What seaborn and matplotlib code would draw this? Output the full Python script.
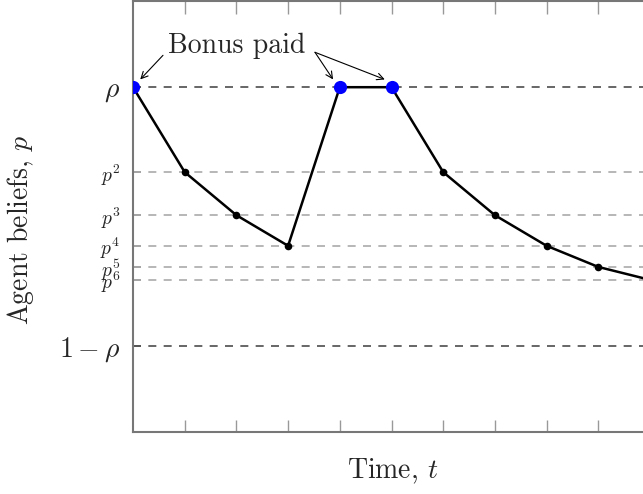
import matplotlib
matplotlib.use("Agg")
import matplotlib.pyplot as plt
import seaborn as sns
import pandas as pd

sns.set_theme(style="white")
plt.rcParams["mathtext.fontset"] = "cm"
plt.rcParams["font.family"] = ["cmr10", "DejaVu Serif"]
plt.rcParams["axes.formatter.use_mathtext"] = True

# Data
t = [0, 1, 2, 3, 4, 5, 6, 7, 8, 9, 10]
beliefs = [0.8, 0.603, 0.503, 0.432, 0.8, 0.8, 0.603, 0.503, 0.432, 0.383, 0.353]
bonus_t = [0, 4, 5]
bonus_p = [0.8, 0.8, 0.8]
rho = 0.8
p_levels = [0.603, 0.503, 0.432, 0.383, 0.353]
p_labels = [r"$p^2$", r"$p^3$", r"$p^4$", r"$p^5$", r"$p^6$"]

df = pd.DataFrame({"t": t, "p": beliefs})
dfb = pd.DataFrame({"t": bonus_t, "p": bonus_p})

fig = plt.figure(figsize=(6.43, 4.94), dpi=100)
ax = fig.add_axes([133 / 643, 62 / 494, 517 / 643, 431 / 494])

for lv in p_levels:
    ax.axhline(lv, color="#aaaaaa", lw=1.2, dashes=(4.8, 4.4), zorder=1)
for lv in [rho, 1 - rho]:
    ax.axhline(lv, color="#4d4d4d", lw=1.2, dashes=(4.8, 4.4), zorder=1)

sns.lineplot(data=df, x="t", y="p", color="black", lw=1.8, ax=ax, zorder=3,
             sort=False, estimator=None)
sns.scatterplot(data=df, x="t", y="p", color="black", s=30, ax=ax, zorder=4,
                edgecolor="black", linewidth=0)
sns.scatterplot(data=dfb, x="t", y="p", color="#0000ff", s=90, ax=ax, zorder=5,
                edgecolor="#0000ff", linewidth=0)

ax.set_xlim(0, 10)
ax.set_ylim(0, 1)
ax.set_xticks(t[1:])
ax.set_xticklabels([])
ticks = [rho] + p_levels + [1 - rho]
ax.set_yticks(ticks)
ax.set_yticklabels([r"$\rho$"] + p_labels + [r"$1-\rho$"])
for i, lab in enumerate(ax.get_yticklabels()):
    lab.set_fontsize(20 if i in (0, len(ticks) - 1) else 14)
ax.tick_params(axis="x", direction="in", length=9, width=1, color="#999999",
               top=True, bottom=True)
ax.tick_params(axis="y", direction="in", length=6, width=1.2, color="#777777",
               left=True, pad=9)
for s in ax.spines.values():
    s.set_color("#777777")
    s.set_linewidth(1.5)

ax.set_xlabel(r"Time, $t$", fontsize=20)
ax.set_ylabel(r"Agent beliefs, $p$", fontsize=20)
ax.xaxis.set_label_coords((393 - 133) / 517, -(457 - 432) / 431)
ax.yaxis.set_label_coords((36 - 133) / 517, (432 - 230) / 431)

ax.text(2.0, 0.897, "Bonus paid", fontsize=20, ha="center",
        va="center", zorder=6)
arrow = dict(arrowstyle="->", color="black", lw=0.8, shrinkA=0, shrinkB=0)
ax.annotate("", xy=(0.14, 0.818), xytext=(0.58, 0.874), arrowprops=arrow)
ax.annotate("", xy=(3.87, 0.818), xytext=(3.52, 0.881), arrowprops=arrow)
ax.annotate("", xy=(4.87, 0.818), xytext=(3.52, 0.881), arrowprops=arrow)

fig.savefig("out.png", dpi=100)
